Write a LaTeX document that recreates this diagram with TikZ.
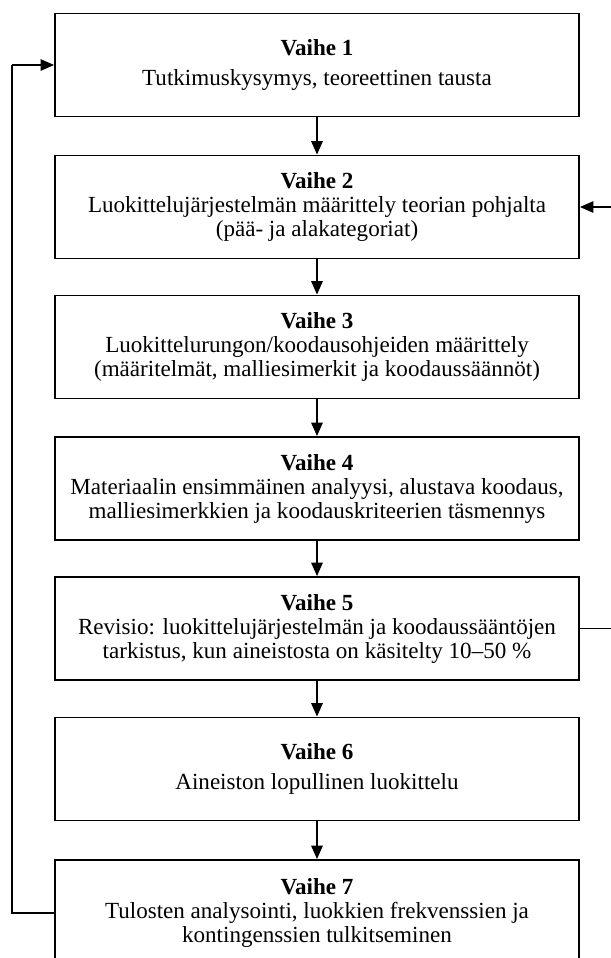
\documentclass[tikz,border=0pt]{standalone}
\usepackage{fontspec}
\setmainfont{Liberation Serif}
\usetikzlibrary{arrows.meta}
\begin{document}
\begin{tikzpicture}[x=0.75pt,y=-0.75pt,
  stagebox/.style={draw,line width=1.4pt,minimum width=524*0.75pt,minimum height=103*0.75pt,
    align=center,inner sep=0pt,font=\fontsize{17.3}{18}\selectfont},
  flow/.style={line width=1.3pt,-{Triangle[length=10pt,width=8.5pt]}},
  loop/.style={line width=1pt}]
\useasboundingbox (0,0) rectangle (611,958);
\node[stagebox] (s1) at (317,65) {\textbf{Vaihe 1}\\[4.5pt]Tutkimuskysymys, teoreettinen tausta};
\node[stagebox] (s2) at (317,207) {\textbf{Vaihe 2}\\Luokittelujärjestelmän määrittely teorian pohjalta\\(pää- ja alakategoriat)};
\node[stagebox] (s3) at (317,347) {\textbf{Vaihe 3}\\Luokittelurungon/koodausohjeiden määrittely\\(määritelmät, malliesimerkit ja koodaussäännöt)};
\node[stagebox] (s4) at (317,488.5) {\textbf{Vaihe 4}\\Materiaalin ensimmäinen analyysi, alustava koodaus,\\malliesimerkkien ja koodauskriteerien täsmennys};
\node[stagebox] (s5) at (317,628.5) {\textbf{Vaihe 5}\\Revisio: luokittelujärjestelmän ja koodaussääntöjen\\tarkistus, kun aineistosta on käsitelty 10–50 \%};
\node[stagebox] (s6) at (317,769) {\textbf{Vaihe 6}\\[4.5pt]Aineiston lopullinen luokittelu};
\node[stagebox,minimum height=106*0.75pt] (s7) at (317,913) {\textbf{Vaihe 7}\\Tulosten analysointi, luokkien frekvenssien ja\\kontingenssien tulkitseminen};
\foreach \a/\b in {s1/s2,s2/s3,s3/s4,s4/s5,s5/s6,s6/s7}
  \draw[flow] (\a) -- (\b);
\coordinate (lx) at (12,0);
\coordinate (rx) at (625,0);
\draw[loop] (s7.west) -- (s7.west -| lx) -- (s1.west -| lx);
\draw[flow,line width=1pt] (s1.west -| lx) -- (s1.west);
\draw[loop] (s5.east) -- (s5.east -| rx) -- (s2.east -| rx);
\draw[flow,line width=1pt] (s2.east -| rx) -- (s2.east);
\end{tikzpicture}
\end{document}
